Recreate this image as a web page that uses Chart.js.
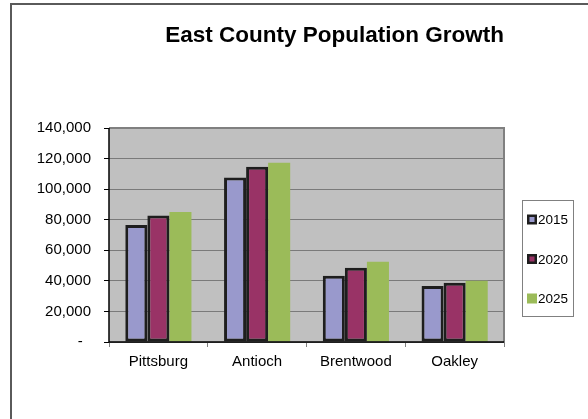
<!DOCTYPE html>
<html>
<head>
<meta charset="utf-8">
<title>East County Population Growth</title>
<script src="https://cdn.jsdelivr.net/npm/chart.js@4"></script>
<style>
  body { margin: 0; background: #ffffff; }
  canvas { display: block; }
</style>
</head>
<body>
<canvas id="chart" width="588" height="419"></canvas>
<script>
// =======================
// DATA
// =======================

const cities = ["Pittsburg", "Antioch", "Brentwood", "Oakley"];
const years = ["2015", "2020", "2025"];

const pop2015 = [76500, 107600, 43300, 36600];
const pop2020 = [82800, 114600, 48600, 38800];
const pop2025 = [85000, 117200, 52500, 40100];

const yTicks = [0, 20000, 40000, 60000, 80000, 100000, 120000, 140000];

// =======================
// PLUGINS
// =======================

const FONT = "'Liberation Sans', Arial, sans-serif";

// grey plot background + frame around the whole chart
const frame = {
  id: "frame",
  beforeDraw(chart) {
    const ctx = chart.ctx;
    const a = chart.chartArea;
    ctx.save();
    ctx.fillStyle = "#c0c0c0";
    ctx.fillRect(a.left, a.top, a.right - a.left, a.bottom - a.top);

    ctx.strokeStyle = "#5a5a5a";
    ctx.lineWidth = 2;
    ctx.beginPath();
    ctx.moveTo(11, 419);
    ctx.lineTo(11, 4);
    ctx.lineTo(588, 4);
    ctx.stroke();
    ctx.restore();
  },
  afterDatasetsDraw(chart) {
    // grey top/right edge, black axes on left/bottom
    const ctx = chart.ctx;
    const a = chart.chartArea;
    ctx.save();
    ctx.strokeStyle = "#808080";
    ctx.lineWidth = 2;
    ctx.beginPath();
    ctx.moveTo(a.left, a.top);
    ctx.lineTo(a.right, a.top);
    ctx.lineTo(a.right, a.bottom);
    ctx.stroke();
    ctx.strokeStyle = "#000000";
    ctx.lineWidth = 1.5;
    ctx.beginPath();
    ctx.moveTo(a.left, a.top);
    ctx.lineTo(a.left, a.bottom);
    ctx.lineTo(a.right, a.bottom);
    ctx.stroke();
    ctx.restore();
  }
};

// boxed legend on the right
const boxLegend = {
  id: "boxLegend",
  afterDraw(chart) {
    const ctx = chart.ctx;
    const x = 522, y = 200, w = 51, h = 116;
    ctx.save();
    ctx.strokeStyle = "#808080";
    ctx.lineWidth = 1;
    ctx.strokeRect(x + 0.5, y + 0.5, w, h);

    ctx.font = "13.5px " + FONT;
    ctx.textBaseline = "middle";
    ctx.textAlign = "left";
    chart.data.datasets.forEach((ds, i) => {
      const cy = y + 19.5 + i * 39.5;
      if (ds.borderWidth > 0) {
        ctx.fillStyle = ds.borderColor;
        ctx.fillRect(x + 5, cy - 5, 10, 10);
        ctx.fillStyle = ds.backgroundColor;
        ctx.fillRect(x + 7.5, cy - 2.5, 5, 5);
      } else {
        ctx.fillStyle = ds.backgroundColor;
        ctx.fillRect(x + 5, cy - 5, 10, 10);
      }
      ctx.fillStyle = "#000000";
      ctx.fillText(ds.label, x + 16, cy + 1);
    });
    ctx.restore();
  }
};

// =======================
// CHART
// =======================

const ctx = document.getElementById("chart").getContext("2d");

new Chart(ctx, {
  type: "bar",
  data: {
    labels: cities,
    datasets: [
      {
        label: years[0],
        data: pop2015,
        backgroundColor: "#9999cc",
        borderColor: "#1e1e1e",
        borderWidth: 3
      },
      {
        label: years[1],
        data: pop2020,
        backgroundColor: "#993366",
        borderColor: "#1e1e1e",
        borderWidth: 3
      },
      {
        label: years[2],
        data: pop2025,
        backgroundColor: "#9bbb59",
        borderColor: "#9bbb59",
        borderWidth: 0
      }
    ]
  },
  options: {
    responsive: false,
    animation: false,
    layout: { padding: { left: 0, right: 84, top: 0, bottom: 0 } },
    datasets: {
      bar: { categoryPercentage: 0.67, barPercentage: 1.0, borderSkipped: false }
    },
    plugins: {
      legend: { display: false },
      tooltip: { enabled: false },
      title: {
        display: true,
        align: "end",
        text: "East County Population Growth",
        color: "#000000",
        font: { family: FONT, size: 22.5, weight: "bold", lineHeight: 1.2 },
        padding: { top: 22, bottom: 79 }
      }
    },
    scales: {
      x: {
        grid: {
          offset: true,
          drawOnChartArea: false,
          drawTicks: true,
          tickLength: 5,
          color: "#808080"
        },
        border: { display: false },
        ticks: {
          color: "#000000",
          font: { family: FONT, size: 15 },
          padding: 6
        },
        afterFit(scale) { scale.height = 77; }
      },
      y: {
        min: 0,
        max: 140000,
        afterBuildTicks(scale) {
          scale.ticks = yTicks.map(v => ({ value: v }));
        },
        grid: {
          color: "#7a7a7a",
          lineWidth: 1,
          drawTicks: true,
          tickLength: 5,
          tickColor: "#000000"
        },
        border: { display: false },
        ticks: {
          color: "#000000",
          font: { family: FONT, size: 15 },
          padding: 13,
          callback: v => v === 0 ? "-  " : v.toLocaleString("en-US")
        },
        afterFit(scale) { scale.width = 109; }
      }
    }
  },
  plugins: [frame, boxLegend]
});
</script>
</body>
</html>
